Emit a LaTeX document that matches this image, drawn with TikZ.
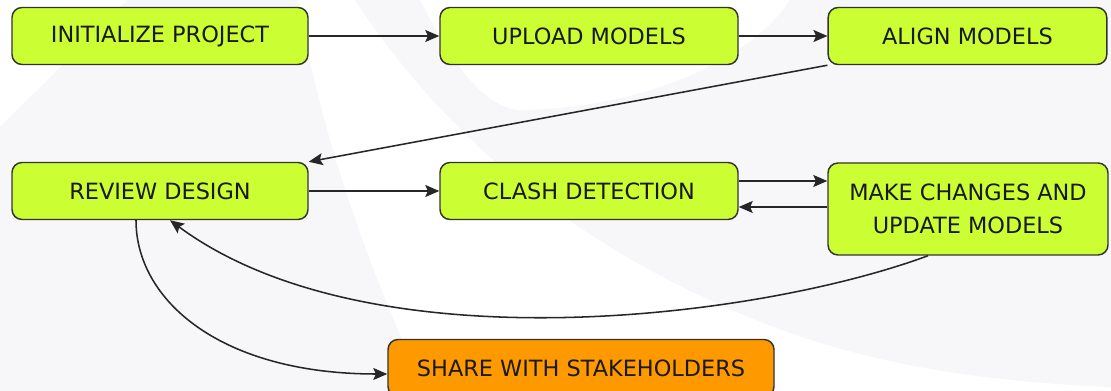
\documentclass[tikz,border=0pt]{standalone}
\usepackage{fontspec}
\setmainfont{DejaVu Sans}
\usetikzlibrary{arrows.meta}
\definecolor{stepgreen}{RGB}{204,255,51}
\definecolor{shareorange}{RGB}{255,153,0}
\definecolor{bggray}{RGB}{247,247,250}

\begin{document}
\begin{tikzpicture}[x=0.75pt,y=-0.75pt,
  stepbox/.style={rectangle,rounded corners=7.5pt,draw=black!80,line width=1.1pt,fill=stepgreen,minimum height=42.75pt,inner sep=0pt,align=center,text=black!90,font=\fontsize{16.8pt}{24.75pt}\selectfont},
  sharebox/.style={stepbox,fill=shareorange},
  flow/.style={-{Stealth[length=10.5pt,width=9pt,inset=2pt]},line width=1.15pt,draw=black!85}]
\clip (0,0) rectangle (1111,391);
\fill[white] (0,0) rectangle (1111,391);
\fill[bggray] (0,127) -- (128,0) -- (298,0) .. controls (318,120) and (360,250) .. (425,391) -- (0,391) -- cycle;
\fill[bggray] (355,0) .. controls (420,100) and (520,200) .. (650,270) .. controls (780,340) and (900,378) .. (1111,387) -- (1111,0) -- cycle;
\fill[white] (420,0) .. controls (455,70) and (490,115) .. (530,110) .. controls (650,105) and (750,60) .. (790,0) -- cycle;

\node[stepbox,minimum width=222pt] at (160,36) (init) {INITIALIZE PROJECT};
\node[stepbox,minimum width=223.5pt] at (589,36) (upload) {UPLOAD MODELS};
\node[stepbox,minimum width=209pt] at (967.5,36) (align) {ALIGN MODELS};
\node[stepbox,minimum width=222pt] at (160,191) (review) {REVIEW DESIGN};
\node[stepbox,minimum width=223.5pt] at (589,191) (clash) {CLASH DETECTION};
\node[stepbox,minimum width=210pt,minimum height=69pt] at (968,209) (update) {MAKE CHANGES AND\\UPDATE MODELS};
\node[sharebox,minimum width=289.5pt] at (581,368) (share) {SHARE WITH STAKEHOLDERS};

\draw[flow] (init) -- (upload);
\draw[flow] (upload) -- (align);
\draw[flow] (align.south west) -- (review.north east);
\draw[flow] (review) -- (clash);
\draw[flow] ([yshift=7.5pt]clash.east) -- ([yshift=7.5pt]clash.east -| update.west);
\draw[flow] ([yshift=-12pt]clash.east -| update.west) -- ([yshift=-12pt]clash.east);
\draw[flow] ([xshift=-30pt]update.south) .. controls (760,318) and (370,368) .. ([xshift=7.5pt]review.south);
\draw[flow] ([xshift=-18pt]review.south) .. controls (136,300) and (220,374) .. ([yshift=-4.5pt]share.west);
\end{tikzpicture}
\end{document}
